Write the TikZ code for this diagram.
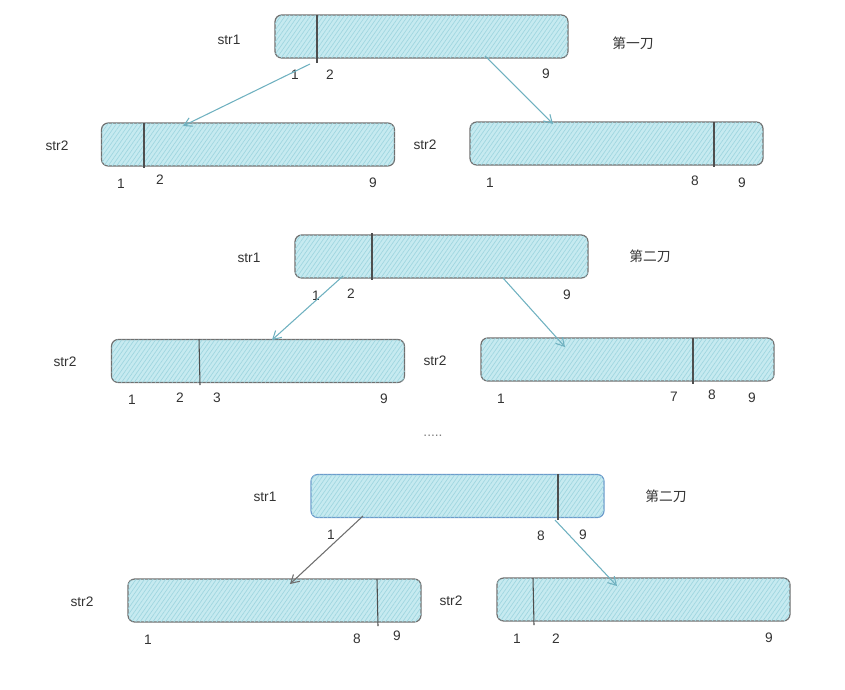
\documentclass[tikz,border=0pt]{standalone}
\usepackage{fontspec}
\setmainfont{Liberation Sans}
\newfontfamily\cjk{Noto Sans CJK SC}
\usetikzlibrary{arrows.meta,patterns.meta,calc}
\definecolor{boxfill}{HTML}{C6EAF0}
\definecolor{hatch}{HTML}{9FD6E0}
\definecolor{boxline}{HTML}{707070}
\definecolor{blueline}{HTML}{6C9BCB}
\definecolor{teal}{HTML}{6FB1C0}
\definecolor{darkarr}{HTML}{6E6E6E}
\tikzset{
  strbox/.style={draw=boxline, line width=0.9pt, fill=boxfill, rounded corners=5pt,
    minimum width=219.75pt, minimum height=32.25pt, inner sep=0pt,
    postaction={pattern={Lines[angle=55,distance=2.6pt,line width=0.5pt]}, pattern color=hatch}},
  divider/.style={draw=boxline!70!black, line width=0.8pt},
  lbl/.style={font=\fontsize{10.3}{12}\selectfont, text=black!80, inner sep=0pt},
  cut/.style={font=\cjk\fontsize{10.3}{12}\selectfont, text=black!80, inner sep=0pt},
  conn/.style={draw=teal, line width=0.8pt, -{Straight Barb[length=6pt,width=7pt]}},
  connd/.style={draw=darkarr, line width=0.8pt, -{Straight Barb[length=6pt,width=7pt]}},
}
\begin{document}
\begin{tikzpicture}[x=0.75pt,y=-0.75pt]
\useasboundingbox (0,0) rectangle (845,689);
% ---------- row 1 ----------
\node[strbox] (a1) at (421.5,36.5) {};
\node[strbox] (a2) at (248,144.5) {};
\node[strbox] (a3) at (616.5,143.5) {};
\draw[divider] (317,15) -- (317,63);
\draw[divider] (144,123) -- (144,168);
\draw[divider] (714,122) -- (714,167);
\node[lbl] (a1s) at (229,40) {str1};
\node[cut] (a1c) at (633,43) {第一刀};
\node[lbl] (a1n1) at (295,75) {1};
\node[lbl] (a1n2) at (330,75) {2};
\node[lbl] (a1n9) at (546,74) {9};
\node[lbl] (a2s) at (57,146) {str2};
\node[lbl] (a2n1) at (121,184) {1};
\node[lbl] (a2n2) at (160,180) {2};
\node[lbl] (a2n9) at (373,183) {9};
\node[lbl] (a3s) at (425,145) {str2};
\node[lbl] (a3n1) at (490,183) {1};
\node[lbl] (a3n8) at (695,181) {8};
\node[lbl] (a3n9) at (742,183) {9};
\coordinate (a1l) at (310,64);
\coordinate (a1r) at (485,56);
\coordinate (a2t) at (183,126);
\coordinate (a3t) at (553,124);
\draw[conn] (a1l) -- (a2t);
\draw[conn] (a1r) -- (a3t);
% ---------- row 2 ----------
\node[strbox] (b1) at (441.5,256.5) {};
\node[strbox] (b2) at (258,361) {};
\node[strbox] (b3) at (627.5,359.5) {};
\draw[divider] (372,233) -- (372,280);
\draw[divider] (199,339) -- (200,385);
\draw[divider] (693,338) -- (693,384);
\node[lbl] (b1s) at (249,258) {str1};
\node[cut] (b1c) at (650,256) {第二刀};
\node[lbl] (b1n1) at (316,296) {1};
\node[lbl] (b1n2) at (351,294) {2};
\node[lbl] (b1n9) at (567,295) {9};
\node[lbl] (b2s) at (65,362) {str2};
\node[lbl] (b2n1) at (132,400) {1};
\node[lbl] (b2n2) at (180,398) {2};
\node[lbl] (b2n3) at (217,398) {3};
\node[lbl] (b2n9) at (384,399) {9};
\node[lbl] (b3s) at (435,361) {str2};
\node[lbl] (b3n1) at (501,399) {1};
\node[lbl] (b3n7) at (674,397) {7};
\node[lbl] (b3n8) at (712,395) {8};
\node[lbl] (b3n9) at (752,398) {9};
\coordinate (b1l) at (343,276);
\coordinate (b1r) at (503,278);
\coordinate (b2t) at (272,340);
\coordinate (b3t) at (565,347);
\draw[conn] (b1l) -- (b2t);
\draw[conn] (b1r) -- (b3t);
% ---------- dots ----------
\node[lbl, text=black!50] (dots) at (433,436) {.....};
% ---------- row 3 ----------
\node[strbox, draw=blueline] (c1) at (457.5,496) {};
\node[strbox] (c2) at (274.5,600.5) {};
\node[strbox] (c3) at (643.5,599.5) {};
\draw[divider] (558,474) -- (558,520);
\draw[divider] (377,579) -- (378,626);
\draw[divider] (533,578) -- (534,625);
\node[lbl] (c1s) at (265,497) {str1};
\node[cut] (c1c) at (666,496) {第二刀};
\node[lbl] (c1n1) at (331,535) {1};
\node[lbl] (c1n8) at (541,536) {8};
\node[lbl] (c1n9) at (583,535) {9};
\node[lbl] (c2s) at (82,602) {str2};
\node[lbl] (c2n1) at (148,640) {1};
\node[lbl] (c2n8) at (357,639) {8};
\node[lbl] (c2n9) at (397,636) {9};
\node[lbl] (c3s) at (451,601) {str2};
\node[lbl] (c3n1) at (517,639) {1};
\node[lbl] (c3n2) at (556,639) {2};
\node[lbl] (c3n9) at (769,638) {9};
\coordinate (c1l) at (363,516);
\coordinate (c1r) at (555,520);
\coordinate (c2t) at (290,584);
\coordinate (c3t) at (617,586);
\draw[connd] (c1l) -- (c2t);
\draw[conn] (c1r) -- (c3t);
\end{tikzpicture}
\end{document}
